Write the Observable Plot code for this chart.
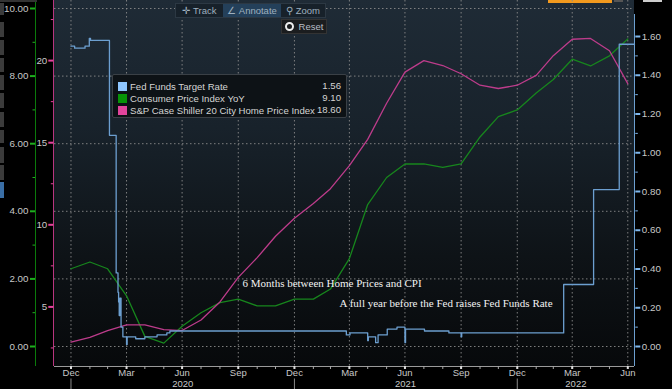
<!DOCTYPE html>
<html>
<head>
<meta charset="utf-8">
<script src="https://cdn.jsdelivr.net/npm/d3@7"></script>
<script src="https://cdn.jsdelivr.net/npm/@observablehq/plot@0.6"></script>
<style>
  html, body { margin:0; padding:0; background:#000; }
  #chart { position:relative; width:672px; height:389px; overflow:hidden; background:#000; font-family:"Liberation Sans", Arial, sans-serif; }
  #chart svg { position:absolute; left:0; top:0; }
  .pane { position:absolute; left:54px; top:0; width:580px; height:366px;
          background:linear-gradient(to bottom, #1f2b36 0%, #18222b 35%, #0e1317 70%, #07090b 100%); }
  .deco { position:absolute; }
  #toolbar { position:absolute; left:175px; top:3px; width:151px; height:15px; background:#17212a; border:1px solid #2c3843; box-sizing:border-box; display:flex; font-size:9.5px; color:#9fb0bf; }
  #toolbar div { display:flex; align-items:center; justify-content:center; height:100%; white-space:nowrap; }
  #reset { position:absolute; left:281px; top:19px; width:46px; height:15px; background:#1b1d1f; border:1px solid #333; box-sizing:border-box; font-size:9.5px; color:#b8bfc6; display:flex; align-items:center; justify-content:center; gap:5px; }
  #reset span.dot { width:5px; height:5px; border:2px solid #eee; border-radius:50%; background:#1b1d1f; display:inline-block; }
  #legend { position:absolute; left:112px; top:74px; width:235px; height:44px; background:#0d1216; border:1px solid #3a4046; border-radius:2px; box-sizing:border-box; padding:5px 5px 0 5px; font-size:9.6px; color:#d4d4d4; white-space:nowrap; }
  #legend .row { position:relative; display:flex; align-items:center; height:12px; }
  #legend .sw { width:9px; height:9px; margin-right:3px; flex:none; }
  #legend .val { position:absolute; right:0; top:0; line-height:12px; }
</style>
</head>
<body>
<div id="chart"><div class="pane"></div></div>
<script>
// ---------------- data ----------------
const months = ["2019-12",
  "2020-01","2020-02","2020-03","2020-04","2020-05","2020-06","2020-07","2020-08","2020-09","2020-10","2020-11","2020-12",
  "2021-01","2021-02","2021-03","2021-04","2021-05","2021-06","2021-07","2021-08","2021-09","2021-10","2021-11","2021-12",
  "2022-01","2022-02","2022-03","2022-04","2022-05","2022-06"];
const cpiYoY = [2.3,
  2.5,2.3,1.5,0.3,0.1,0.6,1.0,1.3,1.4,1.2,1.2,1.4,
  1.4,1.7,2.6,4.2,5.0,5.4,5.4,5.3,5.4,6.2,6.8,7.0,
  7.5,7.9,8.5,8.3,8.6,9.1];
const caseShiller = [2.85,
  3.15,3.55,3.9,3.9,3.62,3.56,4.2,5.3,6.8,8.0,9.3,10.4,
  11.3,12.2,13.6,15.2,17.4,19.3,20.0,19.7,19.2,18.5,18.3,18.5,
  19.1,20.3,21.3,21.35,20.6,18.6];
const fedDates = ["2019-12-31","2020-01-06","2020-01-23","2020-01-30","2020-02-01","2020-03-03",
  "2020-03-14","2020-03-17","2020-03-18","2020-03-19","2020-03-20","2020-03-22","2020-03-25","2020-03-31",
  "2020-04-01","2020-04-15","2020-04-30","2020-05-20","2020-06-05","2020-06-10",
  "2021-03-26","2021-04-01","2021-04-30","2021-05-01","2021-05-13","2021-05-17","2021-06-01","2021-06-17",
  "2021-06-30","2021-07-01","2021-08-01","2021-09-10","2021-09-30","2021-10-01",
  "2022-03-17","2022-05-05","2022-06-16","2022-07-11"];
const fedRate = [1.55,1.54,1.55,1.59,1.58,1.09,
  0.38,0.28,0.23,0.16,0.25,0.10,0.05,0.01,
  0.05,0.04,0.05,0.06,0.07,0.08,
  0.06,0.07,0.03,0.05,0.02,0.06,0.09,0.10,
  0.02,0.09,0.08,0.07,0.05,0.07,
  0.32,0.81,1.56,1.56];

const seriesNames = ["Fed Funds Target Rate","Consumer Price Index YoY","S&P Case Shiller 20 City Home Price Index"];
const swatchColors = ["#8ec6ff","#079307","#e2449c"];
const lineColors = ["#6c9fd0","#17861d","#bd3c8b"];

const quarterMonths = ["2019-12","2020-03","2020-06","2020-09","2020-12","2021-03","2021-06","2021-09","2021-12","2022-03","2022-06"];
const quarterLabels = ["Dec","Mar","Jun","Sep","Dec","Mar","Jun","Sep","Dec","Mar","Jun"];
const yearBreakMonths = ["2019-12","2020-12","2021-12"];
const yearLabels = ["2020","2021","2022"];
const yearLabelDates = ["2020-07-01","2021-07-01","2022-04-06"];
const cpiTicks = [0,2,4,6,8,10];
const cpiMinorTicks = [1,3,5,7,9];
const hpiTicks = [5,10,15,20];
const hpiMinorTicks = [2.5,7.5,12.5,17.5,22.5];
const fedTicks = [0,0.2,0.4,0.6,0.8,1.0,1.2,1.4,1.6];
const fedMinorTicks = [0.1,0.3,0.5,0.7,0.9,1.1,1.3,1.5];

const noteTexts = ["6 Months between Home Prices and CPI","A full year before the Fed raises Fed Funds Rate"];
const noteDates = ["2020-10-07","2021-03-15"];
const noteCpi = [1.75,1.16];

// ---------------- build ----------------
const monthEnd = s => d3.utcDay.offset(d3.utcMonth.offset(new Date(s + "-01T00:00:00Z"), 1), -1);
const rows = months.map((m, i) => ({date: monthEnd(m), cpi: cpiYoY[i], hpi: caseShiller[i]}));
const fedRows = fedDates.map((d, i) => ({date: new Date(d + "T00:00:00Z"), rate: fedRate[i]}));
const quarterDates = quarterMonths.map(monthEnd);
const qLabel = new Map(quarterDates.map((d, i) => [+d, quarterLabels[i]]));
const monthDates = months.map(monthEnd);
const yearBreaks = yearBreakMonths.map(monthEnd);
const yearRows = yearLabels.map((t, i) => ({date: new Date(yearLabelDates[i] + "T00:00:00Z"), text: t}));
const notes = noteTexts.map((t, i) => ({text: t, date: new Date(noteDates[i] + "T00:00:00Z"), value: noteCpi[i]}));

const W = 672, H = 389;
const xDomain = [new Date("2019-12-04T00:00:00Z"), new Date("2022-07-11T00:00:00Z")];
const chart = document.getElementById("chart");
const font = "'Liberation Sans', Arial, sans-serif";

function layer(y, marks) {
  const svg = Plot.plot({
    width: W, height: H,
    marginLeft: 54, marginRight: 38, marginTop: 0, marginBottom: 23,
    style: {background: "transparent", color: "#c8c8c8", fontFamily: font, fontSize: "9.5px", overflow: "visible"},
    x: {type: "utc", domain: xDomain, axis: null},
    y: {...y, axis: null},
    marks
  });
  svg.style.position = "absolute"; svg.style.left = "0px"; svg.style.top = "0px";
  svg.style.maxWidth = "none";
  chart.appendChild(svg);
}

// decorative axis lines and UI chrome
function deco(css) { const d = document.createElement("div"); d.className = "deco"; Object.assign(d.style, css); chart.appendChild(d); }
deco({left: "34.5px", top: "0px", width: "1.4px", height: "366px", background: "#0b7a0b"});
deco({left: "53px", top: "0px", width: "1.3px", height: "366px", background: "#b8357f"});
deco({left: "633.5px", top: "14px", width: "1.3px", height: "352px", background: "#6c9fd0"});
deco({left: "54px", top: "365.5px", width: "580px", height: "1.2px", background: "#9a9a9a"});
deco({left: "548px", top: "0px", width: "64px", height: "2.5px", background: "#f39a1e"});
deco({left: "614px", top: "0px", width: "9px", height: "2px", background: "#555"});
deco({left: "643px", top: "0px", width: "19px", height: "2px", background: "#ccc"});
deco({left: "0px", top: "0px", width: "37px", height: "2px", background: "#333"});
const sideBoxes = [[3,15],[22,37],[40,55],[58,72],[75,90],[93,108],[112,127],[130,143],[147,163],[165,180]];
sideBoxes.forEach(([a, b]) => deco({left: "0px", top: a + "px", width: "3.5px", height: (b - a) + "px", background: "#3b3b3b"}));
deco({left: "0px", top: "182px", width: "4px", height: "16px", background: "#3a6ea5"});

// layer 1: CPI (green, left outer axis), grid, x axis, notes
layer({domain: [0, 10], range: [346, 8]}, [
  Plot.gridY({ticks: cpiTicks, stroke: "#8a8a8a", strokeOpacity: 0.9, strokeDasharray: "1.5,2.5"}),
  Plot.gridX({ticks: quarterDates, stroke: "#8a8a8a", strokeOpacity: 0.9, strokeDasharray: "1.5,2.5"}),
  Plot.axisY({ticks: cpiTicks, anchor: "left", dx: -19, tickSize: 5, tickPadding: 2, strokeWidth: 2, stroke: "#1fae1f", fill: "#c8c8c8", tickFormat: d => d.toFixed(2), label: null, fontSize: 9.8}),
  Plot.axisY({ticks: cpiMinorTicks, anchor: "left", dx: -19, tickSize: 2.5, stroke: "#1fae1f", fill: "none", tickFormat: () => "", label: null}),
  Plot.axisX({ticks: monthDates, tickSize: 3, stroke: "#a8a8a8", fill: "none", tickFormat: () => "", label: null}),
  Plot.axisX({ticks: quarterDates, tickSize: 3, strokeWidth: 2, stroke: "#dcdcdc", tickPadding: 0, fill: "#c8c8c8", tickFormat: d => qLabel.get(+d), label: null, fontSize: 9.5}),
  Plot.axisX({ticks: yearBreaks, tickSize: 11, dy: 12.5, stroke: "#8a8a8a", fill: "none", tickFormat: () => "", label: null}),
  Plot.text(yearRows, {x: "date", text: "text", frameAnchor: "bottom", lineAnchor: "bottom", dy: 20.5, fill: "#c8c8c8", fontSize: 9.5}),
  Plot.line(rows, {x: "date", y: "cpi", stroke: lineColors[1], strokeWidth: 1.3}),
  Plot.text(notes, {x: "date", y: "value", text: "text", textAnchor: "start", lineAnchor: "bottom", fontFamily: "'Liberation Serif', 'Times New Roman', serif", fontSize: 11, fill: "#f2f2f2"})
]);

// layer 2: Case-Shiller (pink, left inner axis)
layer({domain: [5, 20], range: [306.4, 60.1]}, [
  Plot.axisY({ticks: hpiTicks, anchor: "left", dx: -0.7, tickSize: 5, tickPadding: 1.5, strokeWidth: 2, stroke: "#e2449c", fill: "#c8c8c8", tickFormat: d3.format("d"), label: null, fontSize: 9.8}),
  Plot.axisY({ticks: hpiMinorTicks, anchor: "left", dx: -0.7, tickSize: 2.5, stroke: "#e2449c", fill: "none", tickFormat: () => "", label: null}),
  Plot.line(rows, {x: "date", y: "hpi", stroke: lineColors[2], strokeWidth: 1.3})
]);

// layer 3: Fed funds (blue, right axis)
layer({domain: [0, 1.6], range: [346, 36]}, [
  Plot.axisY({ticks: fedTicks, anchor: "right", dx: 0.3, tickSize: 5, tickPadding: 2, strokeWidth: 2, stroke: "#7fb8ee", fill: "#c8c8c8", tickFormat: d => d.toFixed(2), label: null, fontSize: 9.8}),
  Plot.axisY({ticks: fedMinorTicks, anchor: "right", dx: 0.3, tickSize: 2.5, stroke: "#7fb8ee", fill: "none", tickFormat: () => "", label: null}),
  Plot.line(fedRows, {x: "date", y: "rate", stroke: lineColors[0], strokeWidth: 1.3, curve: "step-after"})
]);

// toolbar
const tb = document.createElement("div"); tb.id = "toolbar";
tb.innerHTML = '<div style="width:47px">\u271B&nbsp;Track</div><div style="width:58px;background:#24405a">\u2220&nbsp;Annotate</div><div style="flex:1">\u26B2&nbsp;Zoom</div>';
chart.appendChild(tb);
const rs = document.createElement("div"); rs.id = "reset";
rs.innerHTML = '<span class="dot"></span><span>Reset</span>';
chart.appendChild(rs);

// legend
const lastVals = [fedRate[fedRate.length - 1], cpiYoY[cpiYoY.length - 1], caseShiller[caseShiller.length - 1]];
const lg = document.createElement("div"); lg.id = "legend";
lg.innerHTML = seriesNames.map((n, i) =>
  `<div class="row"><div class="sw" style="background:${swatchColors[i]}"></div><div class="name">${n.replace("&", "&amp;")}</div><div class="val">${lastVals[i].toFixed(2)}</div></div>`).join("");
chart.appendChild(lg);
</script>
</body>
</html>
